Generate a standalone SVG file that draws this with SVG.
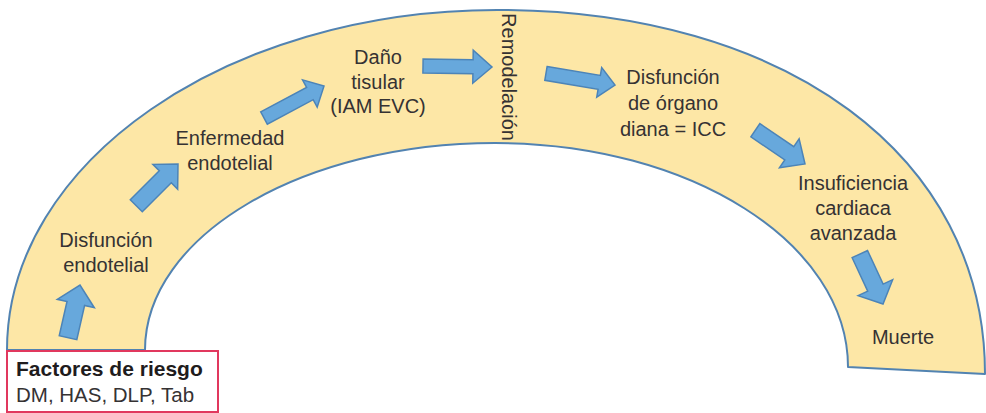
<svg xmlns="http://www.w3.org/2000/svg" width="986" height="413" viewBox="0 0 986 413">
  <style>
    .lbl { font-family: "Liberation Sans", Arial, sans-serif; font-size: 20px; fill: #353233; text-anchor: middle; }
    .arch { fill: #fde7a6; stroke: #5283b1; stroke-width: 2; stroke-linejoin: round; }
    .arrow { fill: #67a8dc; stroke: #4c84b8; stroke-width: 1.5; stroke-linejoin: miter; }
    .box { fill: #ffffff; stroke: #e1385e; stroke-width: 2; }
    .boxtitle { font-family: "Liberation Sans", Arial, sans-serif; font-size: 21px; font-weight: bold; fill: #1f1c1d; }
    .boxtext { font-family: "Liberation Sans", Arial, sans-serif; font-size: 20.5px; fill: #353233; }
  </style>

  <!-- curved band -->
  <path class="arch" d="M7,350 C7,162 227,10 497,10 C785,10 985,155 985,374 L848,367 C848,243 690,143 495,143 C302,143 145,236 145,350 Z"/>

  <!-- connectors: block arrows, tip at origin, pointing along +x -->
  <g id="connectors">
    <polygon class="arrow" transform="translate(80,285) rotate(-77.2)" points="-54,-9 -19,-9 -19,-19 0,0 -19,19 -19,9 -54,9"/>
    <polygon class="arrow" transform="translate(178,164) rotate(-45)" points="-59,-8.5 -18,-8.5 -18,-17.5 0,0 -18,17.5 -18,8.5 -59,8.5"/>
    <polygon class="arrow" transform="translate(324,86) rotate(-28.1)" points="-68,-7 -16,-7 -16,-15.5 0,0 -16,15.5 -16,7 -68,7"/>
    <polygon class="arrow" transform="translate(492,67) rotate(0.8)" points="-69,-7 -19,-7 -19,-16.5 0,0 -19,16.5 -19,7 -69,7"/>
    <polygon class="arrow" transform="translate(615,85) rotate(9.5)" points="-70,-7 -16,-7 -16,-15 0,0 -16,15 -16,7 -70,7"/>
    <polygon class="arrow" transform="translate(805,164) rotate(34.2)" points="-60,-8 -19,-8 -19,-17.5 0,0 -19,17.5 -19,8 -60,8"/>
    <polygon class="arrow" transform="translate(883,304) rotate(65.1)" points="-55,-8.5 -18,-8.5 -18,-19 0,0 -18,19 -18,8.5 -55,8.5"/>
  </g>

  <!-- stages -->
  <g id="factores">
    <rect class="box" x="7" y="351" width="211" height="61"/>
    <text class="boxtitle" x="16" y="376">Factores de riesgo</text>
    <text class="boxtext" x="16" y="402">DM, HAS, DLP, Tab</text>
  </g>
  <g id="disfuncion-endotelial">
    <text class="lbl" x="106" y="247">Disfunción</text>
    <text class="lbl" x="106" y="272">endotelial</text>
  </g>
  <g id="enfermedad-endotelial">
    <text class="lbl" x="230" y="145">Enfermedad</text>
    <text class="lbl" x="230" y="170">endotelial</text>
  </g>
  <g id="dano-tisular">
    <text class="lbl" x="378" y="64">Daño</text>
    <text class="lbl" x="378" y="89">tisular</text>
    <text class="lbl" x="378" y="113">(IAM EVC)</text>
  </g>
  <g id="remodelacion">
    <text class="lbl" transform="translate(502,77) rotate(90)" x="0" y="0">Remodelación</text>
  </g>
  <g id="disfuncion-organo">
    <text class="lbl" x="673" y="84">Disfunción</text>
    <text class="lbl" x="673" y="110">de órgano</text>
    <text class="lbl" x="673" y="136">diana = ICC</text>
  </g>
  <g id="insuficiencia">
    <text class="lbl" x="853" y="190">Insuficiencia</text>
    <text class="lbl" x="853" y="215">cardiaca</text>
    <text class="lbl" x="853" y="240">avanzada</text>
  </g>
  <g id="muerte">
    <text class="lbl" x="903" y="344">Muerte</text>
  </g>
</svg>
